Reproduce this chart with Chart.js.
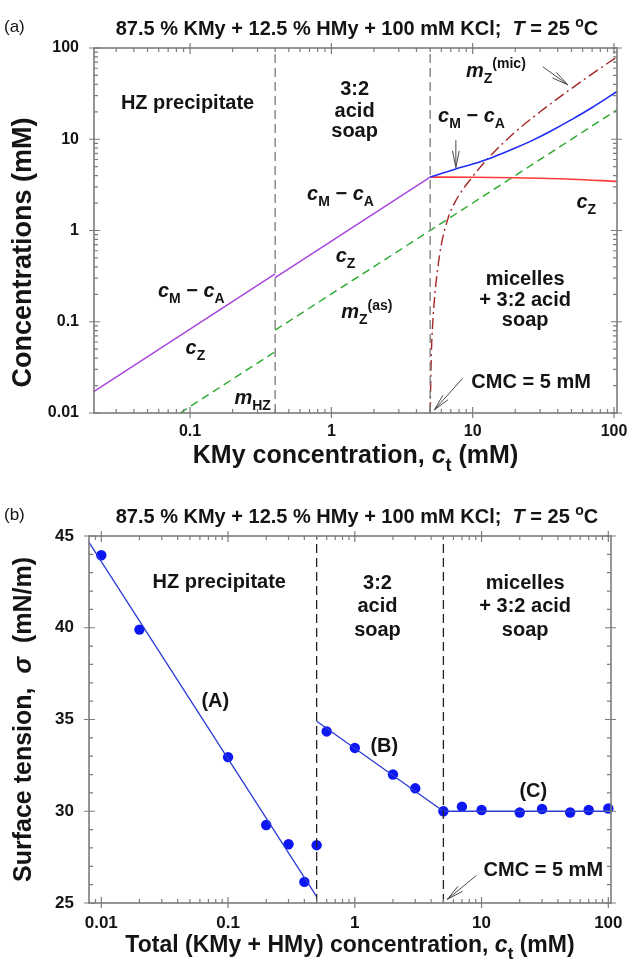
<!DOCTYPE html>
<html>
<head>
<meta charset="utf-8">
<script src="https://cdn.jsdelivr.net/npm/chart.js@4.4.1/dist/chart.umd.min.js"></script>
<style>
  body { margin: 0; background: #fff; }
  #chartA { position: absolute; left: 0; top: 0; }
  #chartB { position: absolute; left: 0; top: 490px; }
</style>
</head>
<body>
<canvas id="chartA" width="627" height="480"></canvas>
<canvas id="chartB" width="627" height="475"></canvas>
<script>
// (a) concentrations vs KMy concentration c_t (mM)
const ctHZ = [0.02, 0.4];
const cmcaHZ = [0.0165, 0.335];
const ctAS = [0.4, 5];
const cmcaAS = [0.305, 3.85];
const ctMic = [5, 7.5, 10, 13.5, 20, 26, 35, 50, 70, 105];
const cmcaMic = [3.85, 4.7, 5.35, 6.25, 8.0, 9.6, 12.1, 16.4, 22.3, 33.4];
const ctCz = [5, 10, 20, 50, 105];
const czMic = [3.85, 3.83, 3.78, 3.65, 3.45];
const ctMhz = [0.085, 0.4];
const mHZ = [0.01, 0.047];
const ctMzas = [0.4, 5, 105];
const mZas = [0.081, 1.0, 21];
const ctMzmic = [5.0, 5.1, 5.2, 5.4, 5.65, 6.0, 6.66, 7.5, 10, 13, 20, 30, 50, 70, 105];
const mZmic = [0.01, 0.045, 0.09, 0.2, 0.38, 0.7, 1.33, 2.05, 3.9, 6.3, 12, 20, 36, 52, 80];
const boundsA = [0.4, 5];
const xTicksA = [0.1, 1, 10, 100];
const yTicksA = [0.01, 0.1, 1, 10, 100];

// (b) surface tension vs total concentration
const ctB = [0.01, 0.02, 0.1, 0.2, 0.3, 0.4, 0.5, 0.6, 1, 2, 3, 5, 7, 10, 20, 30, 50, 70, 100];
const sigmaB = [43.95, 39.9, 32.95, 29.25, 28.2, 26.15, 28.15, 34.35, 33.45, 32.0, 31.25, 30.0, 30.25, 30.07, 29.93, 30.12, 29.93, 30.07, 30.15];
const fitAx = [0.008, 0.5], fitAy = [44.65, 25.35];
const fitBx = [0.5, 5], fitBy = [34.9, 30.0];
const fitCx = [5, 105], fitCy = [30.0, 30.0];
const boundsB = [0.5, 5];
const xTicksB = [0.01, 0.1, 1, 10, 100];
const yTicksB = [25, 30, 35, 40, 45];

const FONT = '"Liberation Sans", Arial, Helvetica, sans-serif';
const TXT = '#141414';

const pts = (xs, ys) => xs.map((x, i) => ({ x: x, y: ys[i] }));

function line(xs, ys, color, width, dash, smooth) {
  return {
    data: pts(xs, ys), showLine: true, pointRadius: 0,
    borderColor: color, borderWidth: width, borderDash: dash || [],
    tension: smooth ? 0.4 : 0, cubicInterpolationMode: smooth ? 'monotone' : 'default',
    clip: 1
  };
}

// rich text: segments with italic / sub / sup
function drawRich(ctx, segs, x, y, size, align, weight) {
  const w = weight || 'bold';
  const parts = segs.map(s => {
    const small = s.sub || s.sup;
    const fs = small ? Math.round(size * 0.72) : size;
    const font = (s.it ? 'italic ' : '') + w + ' ' + fs + 'px ' + FONT;
    ctx.font = font;
    return { t: s.t, font: font, w: ctx.measureText(s.t).width, dy: s.sub ? size * 0.3 : s.sup ? -size * 0.42 : 0 };
  });
  const total = parts.reduce((a, p) => a + p.w, 0);
  let cx = align === 'left' ? x : x - total / 2;
  ctx.textAlign = 'left';
  ctx.textBaseline = 'alphabetic';
  parts.forEach(p => {
    ctx.font = p.font;
    ctx.fillText(p.t, cx, y + p.dy);
    cx += p.w;
  });
}

function arrow(ctx, x1, y1, x2, y2) {
  const ang = Math.atan2(y2 - y1, x2 - x1);
  const len = 17, spread = 0.2;
  ctx.beginPath();
  ctx.moveTo(x1, y1); ctx.lineTo(x2, y2);
  ctx.moveTo(x2 - len * Math.cos(ang - spread), y2 - len * Math.sin(ang - spread)); ctx.lineTo(x2, y2);
  ctx.lineTo(x2 - len * Math.cos(ang + spread), y2 - len * Math.sin(ang + spread));
  ctx.stroke();
}

function logMinors(min, max) {
  const out = [];
  for (let d = Math.floor(Math.log10(min)); d <= Math.ceil(Math.log10(max)); d++) {
    for (let m = 2; m <= 9; m++) {
      const v = m * Math.pow(10, d);
      if (v > min && v < max) out.push(v);
    }
  }
  return out;
}

function frame(chart, xMajor, xMinor, yMajor, yMinor) {
  const { ctx, chartArea: a } = chart;
  const sx = chart.scales.x, sy = chart.scales.y;
  ctx.save();
  ctx.strokeStyle = '#7c7c7c';
  ctx.lineWidth = 1.6;
  ctx.strokeRect(a.left, a.top, a.right - a.left, a.bottom - a.top);
  ctx.lineWidth = 1.2;
  ctx.beginPath();
  xMajor.forEach(v => {
    const p = sx.getPixelForValue(v);
    ctx.moveTo(p, a.bottom + 5); ctx.lineTo(p, a.bottom - 6);
    ctx.moveTo(p, a.top - 5); ctx.lineTo(p, a.top + 6);
  });
  xMinor.forEach(v => {
    const p = sx.getPixelForValue(v);
    ctx.moveTo(p, a.bottom); ctx.lineTo(p, a.bottom - 4);
    ctx.moveTo(p, a.top); ctx.lineTo(p, a.top + 4);
  });
  yMajor.forEach(v => {
    const p = sy.getPixelForValue(v);
    ctx.moveTo(a.left - 5, p); ctx.lineTo(a.left + 6, p);
    ctx.moveTo(a.right + 5, p); ctx.lineTo(a.right - 6, p);
  });
  yMinor.forEach(v => {
    const p = sy.getPixelForValue(v);
    ctx.moveTo(a.left, p); ctx.lineTo(a.left + 4, p);
    ctx.moveTo(a.right, p); ctx.lineTo(a.right - 4, p);
  });
  ctx.stroke();
  ctx.restore();
}

function axis(type, min, max, ticks, size, pad, fit) {
  return {
    type: type, min: min, max: max,
    grid: { display: false, drawTicks: false },
    border: { display: false },
    afterBuildTicks: s => { s.ticks = ticks.map(v => ({ value: v })); },
    ticks: {
      autoSkip: false, maxRotation: 0, padding: pad, color: TXT,
      font: { family: FONT, size: size, weight: 'bold' },
      callback: v => String(v)
    },
    afterFit: fit
  };
}

const titleSegs = [
  { t: '87.5 % KMy + 12.5 % HMy + 100 mM KCl;  ' }, { t: 'T', it: true },
  { t: ' = 25 ' }, { t: 'o', sup: true }, { t: 'C' }
];
const cmca = [{ t: 'c', it: true }, { t: 'M', sub: true }, { t: ' \u2212 ' }, { t: 'c', it: true }, { t: 'A', sub: true }];
const cz = [{ t: 'c', it: true }, { t: 'Z', sub: true }];

const notesA = [
  { x: 0.096, y: 21.3, s: [{ t: 'HZ precipitate' }] },
  { x: 1.46, y: 30.6, s: [{ t: '3:2' }] },
  { x: 1.46, y: 17.7, s: [{ t: 'acid' }] },
  { x: 1.46, y: 10.5, s: [{ t: 'soap' }] },
  { x: 9.8, y: 15.5, s: cmca },
  { x: 8.97, y: 48.5, s: [{ t: 'm', it: true }, { t: 'Z', sub: true }, { t: '(mic)', sup: true }], left: true },
  { x: 1.16, y: 2.16, s: cmca },
  { x: 1.26, y: 0.455, s: cz },
  { x: 1.78, y: 0.109, s: [{ t: 'm', it: true }, { t: 'Z', sub: true }, { t: '(as)', sup: true }] },
  { x: 0.102, y: 0.188, s: cmca },
  { x: 0.109, y: 0.0444, s: cz },
  { x: 0.277, y: 0.0126, s: [{ t: 'm', it: true }, { t: 'HZ', sub: true }] },
  { x: 23.5, y: 0.253, s: [{ t: 'micelles' }] },
  { x: 23.5, y: 0.149, s: [{ t: '+ 3:2 acid' }] },
  { x: 23.5, y: 0.0898, s: [{ t: 'soap' }] },
  { x: 25.9, y: 0.0187, s: [{ t: 'CMC = 5 mM' }] },
  { x: 63.7, y: 1.75, s: cz }
];
const arrowsA = [[7.6, 9.8, 7.6, 4.9], [31.3, 62.4, 47.2, 39.4], [8.5, 0.024, 5.35, 0.0108]];

const notesB = [
  { x: 0.0853, y: 42.15, s: [{ t: 'HZ precipitate' }] },
  { x: 1.51, y: 42.09, s: [{ t: '3:2' }] },
  { x: 1.51, y: 40.85, s: [{ t: 'acid' }] },
  { x: 1.51, y: 39.57, s: [{ t: 'soap' }] },
  { x: 22.1, y: 42.09, s: [{ t: 'micelles' }] },
  { x: 22.1, y: 40.85, s: [{ t: '+ 3:2 acid' }] },
  { x: 22.1, y: 39.57, s: [{ t: 'soap' }] },
  { x: 0.0794, y: 35.7, s: [{ t: '(A)' }] },
  { x: 1.71, y: 33.25, s: [{ t: '(B)' }] },
  { x: 25.6, y: 30.79, s: [{ t: '(C)' }] },
  { x: 30.7, y: 26.47, s: [{ t: 'CMC = 5 mM' }] }
];
const arrowsB = [[9.1, 26.5, 5.37, 25.2]];

function decorate(chart, cfg) {
  const { ctx } = chart;
  const sx = chart.scales.x, sy = chart.scales.y;
  frame(chart, cfg.xMajor, cfg.xMinor, cfg.yMajor, cfg.yMinor);
  ctx.save();
  ctx.fillStyle = TXT;
  cfg.notes.forEach(n => drawRich(ctx, n.s, sx.getPixelForValue(n.x), sy.getPixelForValue(n.y), 20, n.left ? 'left' : 'center'));
  ctx.strokeStyle = '#4a4a4a';
  ctx.lineWidth = 1;
  cfg.arrows.forEach(r => arrow(ctx, sx.getPixelForValue(r[0]), sy.getPixelForValue(r[1]), sx.getPixelForValue(r[2]), sy.getPixelForValue(r[3])));
  // titles
  drawRich(ctx, titleSegs, 357, cfg.titleY, 20, 'center');
  drawRich(ctx, [{ t: cfg.tag }], 4, cfg.titleY - 3, 17, 'left', 'normal');
  drawRich(ctx, cfg.xTitle, (chart.chartArea.left + chart.chartArea.right) / 2, cfg.xTitleY, cfg.xTitleSize, 'center');
  ctx.translate(cfg.yTitleX, (chart.chartArea.top + chart.chartArea.bottom) / 2 + cfg.yTitleShift);
  ctx.rotate(-Math.PI / 2);
  drawRich(ctx, cfg.yTitle, 0, 0, cfg.yTitleSize, 'center');
  ctx.restore();
}

const noLegend = { legend: { display: false }, tooltip: { enabled: false } };

// chart (a)
const cfgA = {
  xMajor: xTicksA, xMinor: logMinors(0.0209, 105), yMajor: yTicksA, yMinor: logMinors(0.01, 100),
  notes: notesA, arrows: arrowsA, titleY: 35, tag: '(a)',
  xTitle: [{ t: 'KMy concentration, ' }, { t: 'c', it: true }, { t: 't', sub: true }, { t: ' (mM)' }],
  xTitleY: 463, xTitleSize: 25,
  yTitle: [{ t: 'Concentrations (mM)' }], yTitleX: 31, yTitleShift: 22, yTitleSize: 27
};
new Chart(document.getElementById('chartA'), {
  type: 'scatter',
  data: {
    datasets: [
      line([boundsA[0], boundsA[0]], [yTicksA[0], yTicksA[4]], '#7a7a7a', 1.3, [9, 5]),
      line([boundsA[1], boundsA[1]], [yTicksA[0], yTicksA[4]], '#7a7a7a', 1.3, [9, 5]),
      line(ctHZ, cmcaHZ, '#a845de', 1.5),
      line(ctAS, cmcaAS, '#a845de', 1.5),
      line(ctMic, cmcaMic, '#1f2cf5', 1.6, null, true),
      line(ctCz, czMic, '#ff3a3a', 1.6, null, true),
      line(ctMhz, mHZ, '#27a82b', 1.4, [8, 5]),
      line(ctMzas, mZas, '#27a82b', 1.4, [8, 5]),
      line(ctMzmic, mZmic, '#a62626', 1.4, [11, 4, 2, 4], true)
    ]
  },
  options: {
    responsive: false, animation: false,
    layout: { padding: { top: 48, right: 10, left: 0, bottom: 0 } },
    plugins: noLegend,
    scales: {
      x: axis('logarithmic', 0.0209, 105, xTicksA, 16, 9, s => { s.height = 67; s.paddingLeft = 0; s.paddingRight = 0; }),
      y: axis('logarithmic', 0.01, 100, yTicksA, 16, 15, s => { s.width = 94; s.paddingTop = 0; s.paddingBottom = 0; })
    }
  },
  plugins: [{ id: 'decorA', afterDraw: c => decorate(c, cfgA) }]
});

// chart (b)
const yMinorB = [];
for (let v = yTicksB[0]; v < yTicksB[yTicksB.length - 1]; v++) if (v % 5) yMinorB.push(v);
const cfgB = {
  xMajor: xTicksB, xMinor: logMinors(0.008, 105), yMajor: yTicksB, yMinor: yMinorB,
  notes: notesB, arrows: arrowsB, titleY: 33, tag: '(b)',
  xTitle: [{ t: 'Total (KMy + HMy) concentration, ' }, { t: 'c', it: true }, { t: 't', sub: true }, { t: ' (mM)' }],
  xTitleY: 462, xTitleSize: 23,
  yTitle: [{ t: 'Surface tension,  ' }, { t: '\u03c3', it: true }, { t: '  (mN/m)' }], yTitleX: 31, yTitleShift: 0, yTitleSize: 25
};
new Chart(document.getElementById('chartB'), {
  type: 'scatter',
  data: {
    datasets: [
      line([boundsB[0], boundsB[0]], [yTicksB[0], yTicksB[4]], '#222', 1.3, [9, 5]),
      line([boundsB[1], boundsB[1]], [yTicksB[0], yTicksB[4]], '#222', 1.3, [9, 5]),
      line(fitAx, fitAy, '#2b3bd6', 1.3),
      line(fitBx, fitBy, '#2b3bd6', 1.3),
      line(fitCx, fitCy, '#2b3bd6', 1.3),
      { data: pts(ctB, sigmaB), pointRadius: 5.2, pointBackgroundColor: '#0c17f2', pointBorderWidth: 0, clip: false }
    ]
  },
  options: {
    responsive: false, animation: false,
    layout: { padding: { top: 46, right: 16, left: 0, bottom: 0 } },
    plugins: noLegend,
    scales: {
      x: axis('logarithmic', 0.008, 105, xTicksB, 17, 10, s => { s.height = 62; s.paddingLeft = 0; s.paddingRight = 0; }),
      y: axis('linear', 25, 45, yTicksB, 17, 15, s => { s.width = 89; s.paddingTop = 0; s.paddingBottom = 0; })
    }
  },
  plugins: [{ id: 'decorB', afterDraw: c => decorate(c, cfgB) }]
});
</script>
</body>
</html>
